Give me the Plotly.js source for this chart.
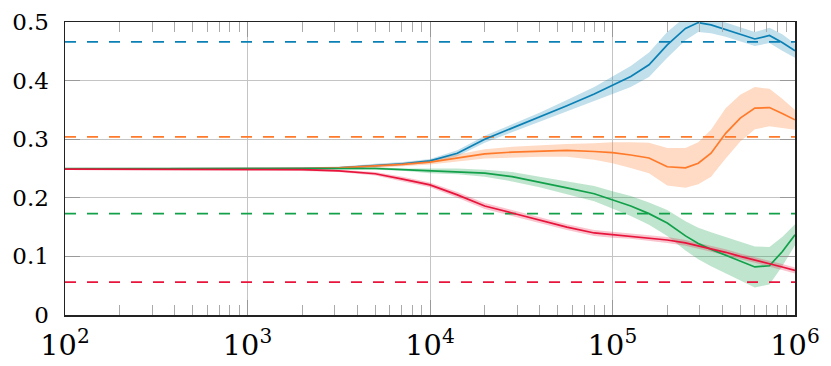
<!DOCTYPE html>
<html>
<head>
<meta charset="utf-8">
<script src="https://cdn.plot.ly/plotly-3.0.1.min.js"></script>
<style>
  html, body { margin: 0; padding: 0; background: #fff; }
  #chart { width: 831px; height: 366px; }
</style>
</head>
<body>
<div id="chart"></div>
<script>
// sample positions (log-spaced)
const xs = [100, 1000, 1995, 3162, 5012, 7079, 10000, 14125, 19953, 28184, 39811, 56234,
            79433, 100000, 125893, 158489, 199526, 251189, 295121, 346737, 416869,
            501187, 602560, 724436, 851138, 1000000];

const blueMean = [0.249, 0.249, 0.250, 0.251, 0.255, 0.258, 0.263, 0.276, 0.300, 0.319, 0.337, 0.357,
                  0.377, 0.392, 0.407, 0.427, 0.461, 0.489, 0.499, 0.495, 0.487,
                  0.479, 0.471, 0.477, 0.465, 0.451];
const blueErr  = [0.001, 0.001, 0.002, 0.002, 0.003, 0.003, 0.003, 0.005, 0.006, 0.007, 0.008, 0.010,
                  0.012, 0.015, 0.018, 0.021, 0.022, 0.020, 0.016, 0.014, 0.012,
                  0.012, 0.012, 0.013, 0.014, 0.012];

const orangeMean = [0.249, 0.249, 0.250, 0.251, 0.254, 0.257, 0.261, 0.268, 0.275, 0.278, 0.280, 0.281,
                    0.279, 0.277, 0.273, 0.268, 0.253, 0.251, 0.259, 0.276, 0.310,
                    0.336, 0.353, 0.354, 0.344, 0.333];
const orangeErr  = [0.001, 0.001, 0.002, 0.002, 0.003, 0.003, 0.004, 0.006, 0.008, 0.009, 0.010, 0.011,
                    0.014, 0.018, 0.022, 0.026, 0.032, 0.034, 0.036, 0.040, 0.043,
                    0.040, 0.036, 0.032, 0.025, 0.017];

const greenMean = [0.250, 0.250, 0.250, 0.250, 0.250, 0.248, 0.246, 0.245, 0.242, 0.236, 0.227, 0.217,
                   0.207, 0.196, 0.186, 0.173, 0.157, 0.135, 0.122, 0.112, 0.102,
                   0.092, 0.082, 0.084, 0.108, 0.137];
const greenErr  = [0.001, 0.001, 0.002, 0.002, 0.002, 0.002, 0.004, 0.005, 0.006, 0.008, 0.009, 0.011,
                   0.013, 0.015, 0.017, 0.019, 0.022, 0.025, 0.027, 0.029, 0.031,
                   0.033, 0.035, 0.032, 0.025, 0.018];

const redMean = [0.249, 0.249, 0.248, 0.246, 0.241, 0.232, 0.222, 0.205, 0.186, 0.174, 0.162, 0.150,
                 0.140, 0.137, 0.135, 0.132, 0.128, 0.123, 0.118, 0.113, 0.107,
                 0.100, 0.094, 0.088, 0.082, 0.076];
const redErr  = [0.001, 0.001, 0.002, 0.002, 0.003, 0.004, 0.004, 0.005, 0.005, 0.005, 0.005, 0.005,
                 0.005, 0.005, 0.005, 0.005, 0.005, 0.005, 0.005, 0.005, 0.005,
                 0.005, 0.005, 0.005, 0.005, 0.005];

// dashed reference levels (blue, orange, green, red)
const refLevels = [0.466, 0.304, 0.173, 0.056];

const lineColors = ['#0a80b4', '#ff7a2a', '#12a04a', '#e8143c'];
const bandColors = ['rgba(10,128,180,0.25)', 'rgba(255,122,42,0.28)', 'rgba(18,160,74,0.27)', 'rgba(232,20,60,0.25)'];

const means = [blueMean, orangeMean, greenMean, redMean];
const errs = [blueErr, orangeErr, greenErr, redErr];

const traces = [];

// bands first
means.forEach((m, i) => {
    const hi = m.map((v, k) => v + errs[i][k]);
    const lo = m.map((v, k) => v - errs[i][k]);
    traces.push({
        x: xs.concat(xs.slice().reverse()),
        y: hi.concat(lo.slice().reverse()),
        type: 'scatter', mode: 'lines',
        fill: 'toself', fillcolor: bandColors[i],
        line: { width: 0 }, hoverinfo: 'skip', showlegend: false
    });
});

// dashed levels
refLevels.forEach((lvl, i) => {
    traces.push({
        x: [xs[0], xs[xs.length - 1]], y: [lvl, lvl],
        type: 'scatter', mode: 'lines',
        line: { color: lineColors[i], width: 1.8, dash: '11px,11px' },
        showlegend: false
    });
});

// main lines
means.forEach((m, i) => {
    traces.push({
        x: xs, y: m, type: 'scatter', mode: 'lines',
        line: { color: lineColors[i], width: 1.7 },
        showlegend: false
    });
});

const layout = {
    width: 831, height: 366,
    margin: { l: 65, r: 36, t: 22, b: 51 },
    paper_bgcolor: '#fff', plot_bgcolor: '#fff',
    font: { family: '"DejaVu Serif", "Liberation Serif", serif', size: 23, color: '#000' },
    showlegend: false,
    xaxis: {
        type: 'log', range: [2, 6],
        dtick: 1, exponentformat: 'power',
        showgrid: true, gridcolor: '#c4c4c4', gridwidth: 1,
        ticks: 'inside', ticklen: 15, tickcolor: '#999',
        minor: { dtick: 'D1', ticks: 'inside', ticklen: 10, tickcolor: '#aaa', showgrid: false },
        showline: true, linecolor: '#222', linewidth: 1.5, mirror: 'allticks',
        zeroline: false, ticklabelstandoff: 5
    },
    yaxis: {
        range: [0, 0.5], dtick: 0.1,
        showgrid: true, gridcolor: '#c4c4c4', gridwidth: 1,
        ticks: 'inside', ticklen: 15, tickcolor: '#999',
        showline: true, linecolor: '#222', linewidth: 1.5, mirror: 'allticks',
        zeroline: false, ticklabelstandoff: 10
    }
};

Plotly.newPlot('chart', traces, layout, { staticPlot: true });
</script>
</body>
</html>
